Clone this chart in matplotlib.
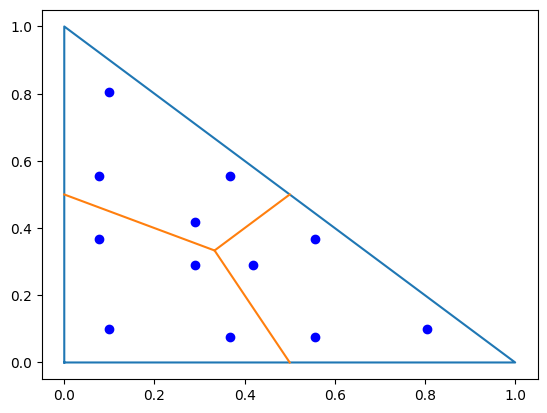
import matplotlib
matplotlib.use("Agg")
import matplotlib.pyplot as plt

# outer triangle vertices (closed)
tri_x = [0.0, 1.0, 0.0, 0.0]
tri_y = [0.0, 0.0, 1.0, 0.0]

# centroid and edge midpoints
centroid = (1 / 3, 1 / 3)
mid_x = [0.5, 0.0, 0.5]
mid_y = [0.0, 0.5, 0.5]

# points
pts_x = [0.100, 0.077, 0.367, 0.290, 0.077, 0.290, 0.418, 0.555, 0.100, 0.367, 0.555, 0.805]
pts_y = [0.805, 0.555, 0.555, 0.418, 0.367, 0.290, 0.290, 0.367, 0.100, 0.077, 0.077, 0.100]

fig, ax = plt.subplots(figsize=(6.4, 4.8), dpi=100)
ax.plot(tri_x, tri_y, color="C0")
for mx, my in zip(mid_x, mid_y):
    ax.plot([centroid[0], mx], [centroid[1], my], color="C1")
ax.plot(pts_x, pts_y, "o", color="blue")

fig.savefig("out.png", bbox_inches="tight")
